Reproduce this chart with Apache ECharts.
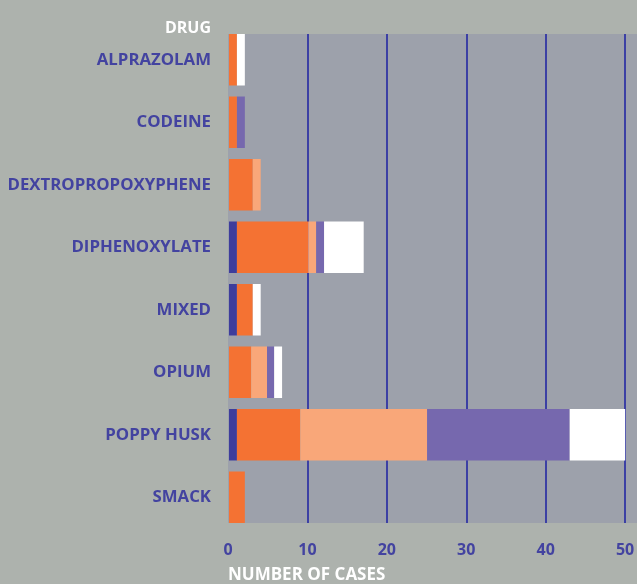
<!DOCTYPE html>
<html>
<head>
<meta charset="utf-8">
<script src="https://cdn.jsdelivr.net/npm/echarts@6/dist/echarts.min.js"></script>
<style>
  html, body { margin: 0; padding: 0; background: #adb2ad; }
  #chart { width: 637px; height: 584px; }
</style>
</head>
<body>
<div id="chart"></div>
<script>
// drug categories, top to bottom
var drugs = ['ALPRAZOLAM', 'CODEINE', 'DEXTROPROPOXYPHENE', 'DIPHENOXYLATE', 'MIXED', 'OPIUM', 'POPPY HUSK', 'SMACK'];
// stacked segments, left to right
var segBlue   = [0, 0, 0, 1, 1, 0, 1, 0];
var segOrange = [1, 1, 3, 9, 2, 2.8, 8, 2];
var segPeach  = [0, 0, 1, 1, 0, 2, 16, 0];
var segPurple = [0, 1, 0, 1, 0, 0.9, 18, 0];
var segWhite  = [1, 0, 0, 5, 1, 1, 7, 0];
var xTicks = [0, 10, 20, 30, 40, 50];

var segColors = ['#3d3d9c', '#f47233', '#f9a779', '#7668ae', '#ffffff'];
var segData = [segBlue, segOrange, segPeach, segPurple, segWhite];
var labelBlue = '#4343a0';
var font = 'Open Sans';

var myChart = echarts.init(document.getElementById('chart'));

var series = segData.map(function(d, i) {
  return {
    type: 'bar',
    stack: 'cases',
    xAxisIndex: 0,
    yAxisIndex: 0,
    barCategoryGap: '17.6%',
    itemStyle: { color: segColors[i] },
    data: d
  };
});

myChart.setOption({
  backgroundColor: '#adb2ad',
  animation: false,
  title: [
    { text: 'DRUG', right: 426, top: 20, padding: 0,
      textStyle: { color: '#ffffff', fontFamily: font, fontWeight: 'bold', fontSize: 16 } },
    { text: 'NUMBER OF CASES', left: 228, top: 567, padding: 0,
      textStyle: { color: '#ffffff', fontFamily: font, fontWeight: 'bold', fontSize: 17 } }
  ],
  grid: [
    // bars
    { left: 229, width: 412, top: 28.5, height: 500, show: false, outerBoundsMode: 'none', containLabel: false },
    // plot background + gridlines
    { left: 228, width: 413, top: 34, height: 489, show: true, backgroundColor: '#9da1ab', borderWidth: 0,
      outerBoundsMode: 'none', containLabel: false }
  ],
  xAxis: [
    { gridIndex: 0, type: 'value', min: 0, max: 52, interval: 10, show: false },
    { gridIndex: 1, type: 'value', min: 0, max: 52, interval: 10,
      axisLine: { show: false }, axisTick: { show: false },
      splitLine: { show: true, showMinLine: false, showMaxLine: false,
        lineStyle: { color: '#3c40a4', width: 2 } },
      axisLabel: {
        margin: 19, color: labelBlue, fontFamily: font, fontWeight: 'bold', fontSize: 16,
        showMaxLabel: false,
        formatter: function(v) { return xTicks.indexOf(v) >= 0 ? String(v) : ''; }
      }
    }
  ],
  yAxis: [
    { gridIndex: 0, type: 'category', data: drugs, inverse: true,
      axisLine: { show: false }, axisTick: { show: false }, splitLine: { show: false },
      axisLabel: { margin: 18, color: labelBlue, fontFamily: font, fontWeight: 'bold', fontSize: 16.8,
        padding: [3, 0, 0, 0] } },
    { gridIndex: 1, type: 'value', show: false, min: 0, max: 1 }
  ],
  series: series
});
</script>
</body>
</html>
